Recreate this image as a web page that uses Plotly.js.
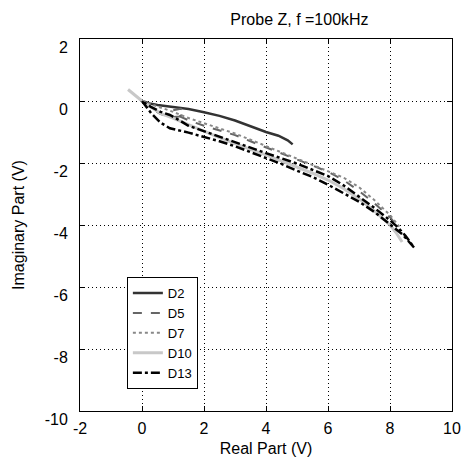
<!DOCTYPE html>
<html>
<head>
<meta charset="utf-8">
<script src="https://cdn.plot.ly/plotly-3.0.1.min.js"></script>
<style>html,body{margin:0;padding:0;background:#fff}#chart{width:463px;height:458px}</style>
</head>
<body>
<div id="chart"></div>
<script>
// Series names
const seriesNames = ["D2", "D5", "D7", "D10", "D13"];

// D2
const d2Re = [0, 0.25, 0.5, 1.0, 1.5, 2.0, 2.5, 3.0, 3.5, 4.0, 4.4, 4.7, 4.86];
const d2Im = [0, -0.08, -0.13, -0.2, -0.26, -0.36, -0.48, -0.63, -0.82, -1.0, -1.12, -1.27, -1.4];

// D5
const d5Re = [0, 0.3, 0.6, 0.9, 1.2, 1.4, 1.25, 1.0, 1.1, 1.5, 2.0, 2.5, 3.0, 3.5, 4.0, 4.5, 5.0, 5.5, 6.0, 6.5, 7.0, 7.5, 8.0, 8.2];
const d5Im = [0, -0.25, -0.42, -0.52, -0.5, -0.38, -0.25, -0.3, -0.45, -0.62, -0.8, -0.95, -1.1, -1.3, -1.5, -1.7, -1.9, -2.1, -2.28, -2.55, -2.9, -3.3, -3.75, -4.0];

// D7
const d7Re = [0, 0.3, 0.6, 1.0, 1.5, 2.0, 2.5, 3.0, 3.5, 4.0, 4.5, 5.0, 5.5, 6.0, 6.5, 7.0, 7.5, 8.0, 8.3];
const d7Im = [0, -0.1, -0.2, -0.35, -0.55, -0.72, -0.9, -1.05, -1.25, -1.45, -1.65, -1.85, -2.05, -2.25, -2.47, -2.78, -3.2, -3.68, -4.05];

// D10
const d10Re = [-0.45, -0.2, 0, 0.3, 0.6, 1.0, 1.5, 2.0, 2.5, 3.0, 3.5, 4.0, 4.5, 5.0, 5.5, 6.0, 6.5, 7.0, 7.5, 8.0, 8.2, 8.39];
const d10Im = [0.37, 0.17, 0, -0.2, -0.4, -0.55, -0.75, -0.97, -1.18, -1.38, -1.56, -1.74, -1.93, -2.12, -2.33, -2.55, -2.82, -3.15, -3.55, -4.0, -4.25, -4.55];

// D13 (out along the lower track, back along the upper track)
const d13Re = [0, 0.3, 0.6, 0.9, 1.5, 2.0, 2.5, 3.0, 3.5, 4.0, 4.5, 5.0, 5.5, 6.0, 6.5, 7.0, 7.5, 8.0, 8.4, 8.78,
               8.5, 8.25, 8.0, 7.5, 7.0, 6.5, 6.0, 5.7, 5.0, 4.0, 3.0, 2.5, 2.0, 1.5, 1.2, 0.9, 0.6, 0.3, 0];
const d13Im = [0, -0.4, -0.7, -0.88, -1.02, -1.15, -1.3, -1.46, -1.65, -1.85, -2.03, -2.25, -2.45, -2.7, -2.97, -3.25, -3.58, -3.97, -4.3, -4.73,
               -4.35, -4.07, -3.85, -3.45, -3.08, -2.72, -2.42, -2.3, -2.02, -1.68, -1.32, -1.15, -0.98, -0.8, -0.62, -0.45, -0.35, -0.2, 0];

const xTicks = [-2, 0, 2, 4, 6, 8, 10];
const yTicks = [-10, -8, -6, -4, -2, 0, 2];

const font = "Liberation Sans, Arial, sans-serif";
const fs = 16;

const traces = [
  {x: d2Re, y: d2Im, name: seriesNames[0], line: {color: "#333333", width: 2.5, dash: "solid"}},
  {x: d5Re, y: d5Im, name: seriesNames[1], line: {color: "#666666", width: 2, dash: "dash"}},
  {x: d7Re, y: d7Im, name: seriesNames[2], line: {color: "#888888", width: 2, dash: "dot"}},
  {x: d10Re, y: d10Im, name: seriesNames[3], line: {color: "#c8c8c8", width: 3, dash: "solid"}},
  {x: d13Re, y: d13Im, name: seriesNames[4], line: {color: "#000000", width: 2.5, dash: "dashdot"}}
].map(t => Object.assign({type: "scatter", mode: "lines"}, t));

const axisCommon = {
  showline: true, linecolor: "#000", linewidth: 1, mirror: "ticks",
  ticks: "inside", ticklen: 5, tickcolor: "#000",
  showgrid: true, gridcolor: "#000", gridwidth: 1, griddash: "1px,3px",
  zeroline: false, tickfont: {family: font, size: fs, color: "#000"}
};

const layout = {
  width: 463, height: 458,
  margin: {l: 80, r: 11, t: 39, b: 47},
  paper_bgcolor: "#fff", plot_bgcolor: "#fff",
  font: {family: font, size: fs, color: "#000"},
  title: {text: "Probe Z, f =100kHz", font: {family: font, size: fs, color: "#000"},
          x: 0.59, xref: "paper", xanchor: "center", y: 1 - 19/458, yref: "container", yanchor: "middle"},
  xaxis: Object.assign({}, axisCommon, {
    range: [-2, 10], tickvals: xTicks, ticktext: xTicks.map(String),
    ticklabelstandoff: 3,
    title: {text: "Real Part (V)", font: {family: font, size: fs, color: "#000"}, standoff: 6}
  }),
  yaxis: Object.assign({}, axisCommon, {
    range: [-10, 2], tickvals: yTicks, ticktext: yTicks.map(String),
    ticklabelshift: 8, ticklabelstandoff: 8,
    title: {text: "Imaginary Part (V)", font: {family: font, size: fs, color: "#000"}, standoff: 16}
  }),
  showlegend: true,
  legend: {x: 0.126, y: 0.36, xanchor: "left", yanchor: "top",
           bgcolor: "#fff", bordercolor: "#000", borderwidth: 1,
           font: {family: font, size: 13, color: "#000"}, tracegroupgap: 0}
};

Plotly.newPlot("chart", traces, layout, {displayModeBar: false, staticPlot: true});
</script>
</body>
</html>
